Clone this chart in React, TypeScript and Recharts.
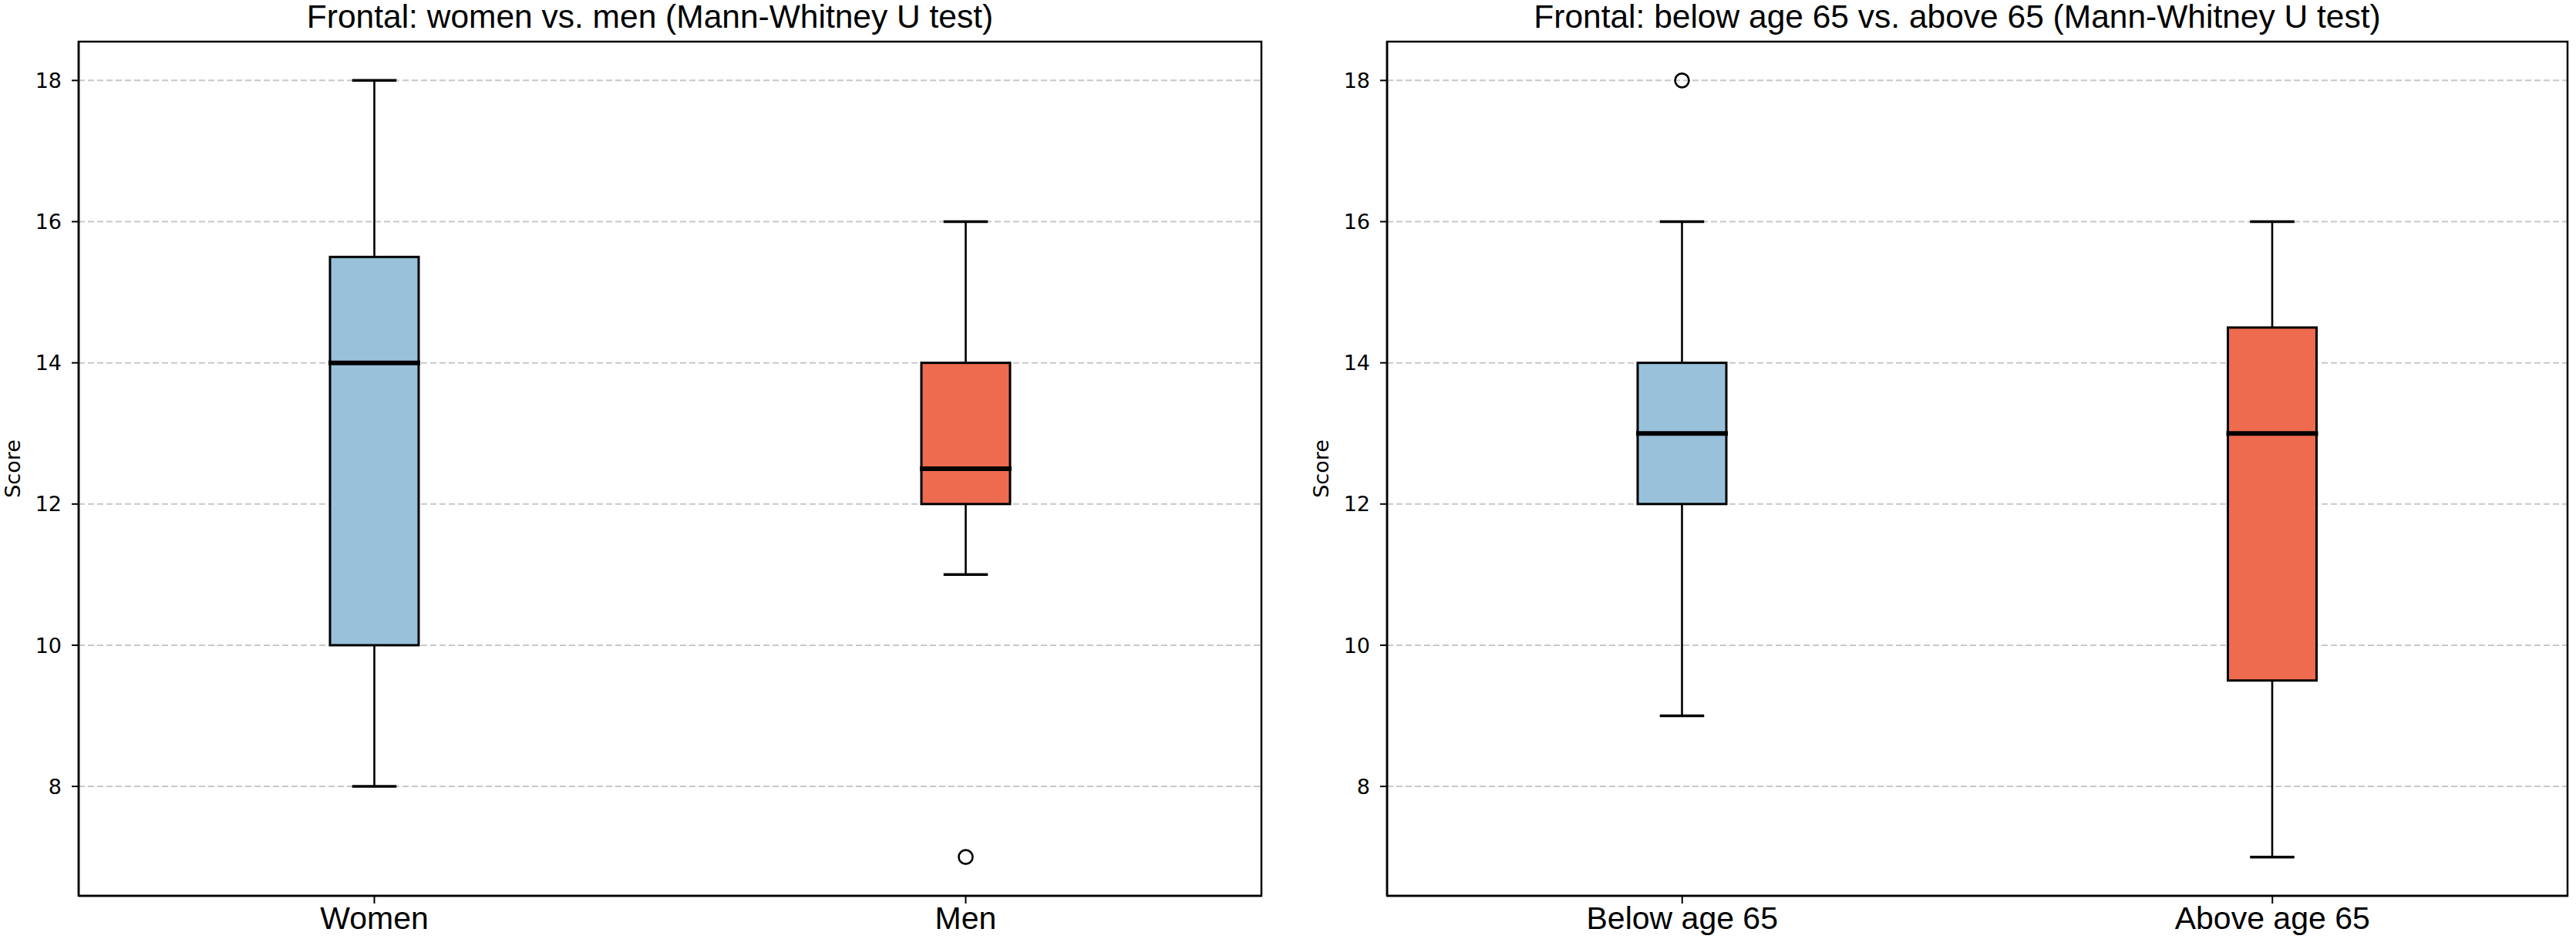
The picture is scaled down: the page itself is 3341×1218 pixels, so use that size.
import { ComposedChart, Bar, XAxis, YAxis, CartesianGrid, ReferenceArea } from 'recharts';

const SEX_GROUPS = ['Women', 'Men'];
const SEX_LOW = [8, 11];
const SEX_Q1 = [10, 12];
const SEX_MEDIAN = [14, 12.5];
const SEX_Q3 = [15.5, 14];
const SEX_HIGH = [18, 16];
const SEX_OUTLIERS = [[], [7]];

const AGE_GROUPS = ['Below age 65', 'Above age 65'];
const AGE_LOW = [9, 7];
const AGE_Q1 = [12, 9.5];
const AGE_MEDIAN = [13, 13];
const AGE_Q3 = [14, 14.5];
const AGE_HIGH = [16, 16];
const AGE_OUTLIERS = [[18], []];

const Y_TICKS = [8, 10, 12, 14, 16, 18];
const Y_DOMAIN: [number, number] = [6.45, 18.55];

const BOX_COLORS = ['#9ac1da', '#ee6b4f'];
const SANS = '"Liberation Sans", Arial, sans-serif';
const DEJAVU = '"DejaVu Sans", sans-serif';

function buildRows(
  groups: string[],
  low: number[],
  q1: number[],
  median: number[],
  q3: number[],
  high: number[],
  outliers: number[][],
) {
  return groups.map((name, i) => ({
    name,
    low: low[i],
    q1: q1[i],
    median: median[i],
    q3: q3[i],
    high: high[i],
    outliers: outliers[i],
    color: BOX_COLORS[i],
  }));
}

function BoxShape(props: any) {
  const { x, y, width, height, payload } = props;
  const { low, high, q1, median, q3, outliers, color } = payload;
  const top = Math.min(y, y + height);
  const bottom = Math.max(y, y + height);
  // pixel position for a value, taken from the bar's own low..high extent
  const py = (v: number) => bottom - ((v - low) * (bottom - top)) / (high - low);
  const cx = x + width / 2;
  const cap = width / 4;
  return (
    <g>
      <line x1={cx} x2={cx} y1={py(high)} y2={py(q3)} stroke="#000" strokeWidth={2.6} />
      <line x1={cx} x2={cx} y1={py(q1)} y2={py(low)} stroke="#000" strokeWidth={2.6} />
      <line x1={cx - cap} x2={cx + cap} y1={py(high)} y2={py(high)} stroke="#000" strokeWidth={3.5} />
      <line x1={cx - cap} x2={cx + cap} y1={py(low)} y2={py(low)} stroke="#000" strokeWidth={3.5} />
      <rect
        x={x}
        y={py(q3)}
        width={width}
        height={py(q1) - py(q3)}
        fill={color}
        stroke="#000"
        strokeWidth={3}
      />
      <line x1={x - 2} x2={x + width + 2} y1={py(median)} y2={py(median)} stroke="#000" strokeWidth={6} />
      {outliers.map((v: number, i: number) => (
        <circle key={i} cx={cx} cy={py(v)} r={9} fill="none" stroke="#000" strokeWidth={2.6} />
      ))}
    </g>
  );
}

interface PanelProps {
  title: string;
  rows: ReturnType<typeof buildRows>;
  left: number;
  width: number;
  marginLeft: number;
  marginRight: number;
}

function Panel({ title, rows, left, width, marginLeft, marginRight }: PanelProps) {
  const yAxisWidth = 60;
  const plotLeft = marginLeft + yAxisWidth;
  const plotRight = width - marginRight;
  return (
    <div style={{ position: 'absolute', left, top: 0, width, height: 1218 }}>
      <div
        style={{
          position: 'absolute',
          left: plotLeft - 26,
          width: plotRight - plotLeft,
          top: 1,
          textAlign: 'center',
          fontFamily: SANS,
          fontSize: 42.5,
          lineHeight: '42px',
          color: '#000',
          whiteSpace: 'nowrap',
        }}
      >
        {title}
      </div>
      <div
        style={{
          position: 'absolute',
          left: plotLeft - 86,
          top: 608,
          transform: 'translate(-50%, -50%) rotate(-90deg)',
          fontFamily: DEJAVU,
          fontSize: 27,
          color: '#000',
          whiteSpace: 'nowrap',
        }}
      >
        Score
      </div>
      <ComposedChart
        width={width}
        height={1218}
        data={rows}
        margin={{ top: 54, right: marginRight, bottom: 0, left: marginLeft }}
      >
        <CartesianGrid vertical={false} stroke="#c8c8c8" strokeWidth={2} strokeDasharray="8 4" />
        <XAxis
          dataKey="name"
          type="category"
          height={56}
          axisLine={{ stroke: '#000', strokeWidth: 2.5 }}
          tickLine={{ stroke: '#000', strokeWidth: 2 }}
          tickSize={10}
          tickMargin={4}
          tick={{ fill: '#000', fontSize: 41, fontFamily: SANS }}
        />
        <YAxis
          type="number"
          domain={Y_DOMAIN}
          ticks={Y_TICKS}
          allowDataOverflow
          width={yAxisWidth}
          axisLine={{ stroke: '#000', strokeWidth: 2.5 }}
          tickLine={{ stroke: '#000', strokeWidth: 2 }}
          tickSize={9}
          tickMargin={13}
          tick={{ fill: '#000', fontSize: 27, fontFamily: DEJAVU }}
        />
        <Bar
          dataKey={(d: any) => [d.low, d.high]}
          barSize={115}
          shape={BoxShape}
          isAnimationActive={false}
        />
        <ReferenceArea y1={Y_DOMAIN[0]} y2={Y_DOMAIN[1]} fill="none" stroke="#000" strokeWidth={2.5} />
      </ComposedChart>
    </div>
  );
}

export default function App() {
  const sexRows = buildRows(SEX_GROUPS, SEX_LOW, SEX_Q1, SEX_MEDIAN, SEX_Q3, SEX_HIGH, SEX_OUTLIERS);
  const ageRows = buildRows(AGE_GROUPS, AGE_LOW, AGE_Q1, AGE_MEDIAN, AGE_Q3, AGE_HIGH, AGE_OUTLIERS);
  return (
    <div style={{ position: 'relative', width: 3341, height: 1218, background: '#fff' }}>
      <style>{'body{margin:0;background:#fff}'}</style>
      <Panel
        title="Frontal: women vs. men (Mann-Whitney U test)"
        rows={sexRows}
        left={0}
        width={1670}
        marginLeft={42}
        marginRight={34}
      />
      <Panel
        title="Frontal: below age 65 vs. above 65 (Mann-Whitney U test)"
        rows={ageRows}
        left={1670}
        width={1671}
        marginLeft={69}
        marginRight={11}
      />
    </div>
  );
}
